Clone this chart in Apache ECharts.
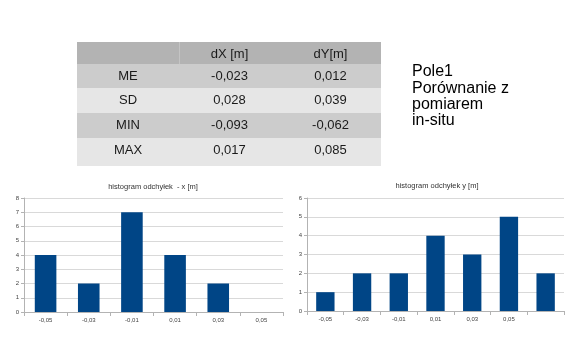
<!DOCTYPE html>
<html>
<head>
<meta charset="utf-8">
<script src="https://cdn.jsdelivr.net/npm/echarts@6/dist/echarts.min.js"></script>
<style>
html,body{margin:0;padding:0;background:#fff;}
#c{width:585px;height:355px;}
</style>
</head>
<body>
<div id="c"></div>
<script>
// ---- data ----
var tableHeader = ['', 'dX [m]', 'dY[m]'];
var tableRowLabels = ['ME', 'SD', 'MIN', 'MAX'];
var tableDX = ['-0,023', '0,028', '-0,093', '0,017'];
var tableDY = ['0,012', '0,039', '-0,062', '0,085'];
var sideText = ['Pole1', 'Porównanie z', 'pomiarem', 'in-situ'];

var titleX = 'histogram odchyłek  - x [m]';
var categoriesX = ['-0,05', '-0,03', '-0,01', '0,01', '0,03', '0,05'];
var valuesX = [4, 2, 7, 4, 2, 0];

var titleY = 'histogram odchyłek y [m]';
var categoriesY = ['-0,05', '-0,03', '-0,01', '0,01', '0,03', '0,05', ''];
var valuesY = [1, 2, 2, 4, 3, 5, 2];

// ---- layout/style ----
var font = 'Liberation Sans, Arial, sans-serif';
var barColor = '#004586';
var tableLeft = 77, tableRight = 381;
var colEdges = [77, 179, 280, 381];
var rowTops = [42, 64, 88, 113, 138];
var rowBottoms = [64, 88, 113, 138, 166];
var rowFills = ['#b3b3b3', '#cccccc', '#e6e6e6', '#cccccc', '#e6e6e6'];

var graphics = [];
var rows = [tableHeader];
for (var i = 0; i < tableRowLabels.length; i++) rows.push([tableRowLabels[i], tableDX[i], tableDY[i]]);
for (var r = 0; r < rows.length; r++) {
  graphics.push({type: 'rect', silent: true,
    shape: {x: tableLeft, y: rowTops[r], width: tableRight - tableLeft, height: rowBottoms[r] - rowTops[r]},
    style: {fill: rowFills[r]}});
}
graphics.push({type: 'line', silent: true,
  shape: {x1: colEdges[1] + 0.5, y1: rowTops[0], x2: colEdges[1] + 0.5, y2: rowBottoms[0]},
  style: {stroke: '#c4c4c4', lineWidth: 1}});
for (var r2 = 0; r2 < rows.length; r2++) {
  for (var c = 0; c < 3; c++) {
    if (!rows[r2][c]) continue;
    graphics.push({type: 'text', silent: true,
      x: (colEdges[c] + colEdges[c + 1]) / 2, y: rowTops[r2] + 12,
      style: {text: rows[r2][c], font: '13px ' + font, fill: '#1a1a1a', textAlign: 'center', textVerticalAlign: 'middle'}});
  }
}
for (var s = 0; s < sideText.length; s++) {
  graphics.push({type: 'text', silent: true, x: 412, y: 72 + s * 16.3,
    style: {text: sideText[s], font: '16px ' + font, fill: '#000', textAlign: 'left', textVerticalAlign: 'middle'}});
}

var axisLabelStyle = {fontSize: 6, color: '#444', fontFamily: font};
function xAxis(idx, cats) {
  return {type: 'category', gridIndex: idx, data: cats, boundaryGap: true,
    axisLine: {lineStyle: {color: '#b3b3b3', width: 1}},
    axisTick: {show: true, alignWithLabel: false, length: 4, lineStyle: {color: '#b3b3b3'}},
    axisLabel: Object.assign({margin: 5, interval: 0}, axisLabelStyle),
    splitLine: {show: false}};
}
function yAxis(idx, max) {
  return {type: 'value', gridIndex: idx, min: 0, max: max, interval: 1,
    axisLine: {show: true, lineStyle: {color: '#b3b3b3', width: 1}},
    axisTick: {show: true, length: 3, lineStyle: {color: '#b3b3b3'}},
    axisLabel: Object.assign({margin: 5}, axisLabelStyle),
    splitLine: {show: true, lineStyle: {color: '#d9d9d9', width: 1}}};
}

var chart = echarts.init(document.getElementById('c'), null, {renderer: 'canvas'});
chart.setOption({
  animation: false,
  backgroundColor: '#fff',
  title: [
    {text: titleX, left: 148, top: 178, textAlign: 'center',
      textStyle: {fontSize: 7.5, fontWeight: 'normal', color: '#333', fontFamily: font}},
    {text: titleY, left: 432, top: 177, textAlign: 'center',
      textStyle: {fontSize: 7.5, fontWeight: 'normal', color: '#333', fontFamily: font}}
  ],
  grid: [
    {left: 24, right: 302, top: 198, bottom: 43, containLabel: false},
    {left: 307, right: 21, top: 198, bottom: 44, containLabel: false}
  ],
  xAxis: [xAxis(0, categoriesX), xAxis(1, categoriesY)],
  yAxis: [yAxis(0, 8), yAxis(1, 6)],
  series: [
    {type: 'bar', xAxisIndex: 0, yAxisIndex: 0, data: valuesX, barWidth: '50%',
      itemStyle: {color: barColor}},
    {type: 'bar', xAxisIndex: 1, yAxisIndex: 1, data: valuesY, barWidth: '50%',
      itemStyle: {color: barColor}}
  ],
  graphic: graphics
});
</script>
</body>
</html>
